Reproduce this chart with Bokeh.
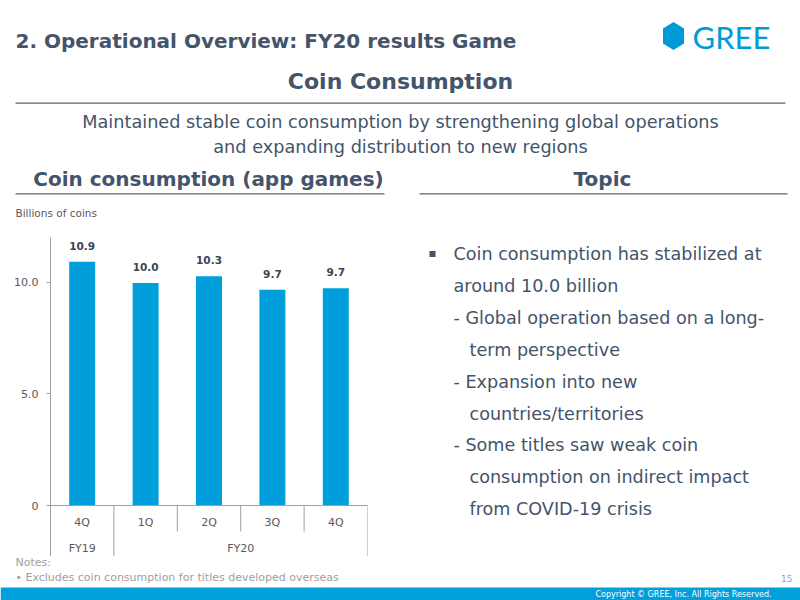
from bokeh.plotting import figure
from bokeh.layouts import column, row
from bokeh.models import FactorRange, Range1d, FixedTicker
from bokeh.embed import file_html
from bokeh.resources import INLINE
from bokeh.core.properties import value

# ---------------- data ----------------
fiscal_years = ["FY19", "FY20", "FY20", "FY20", "FY20"]
quarters = ["4Q", "1Q", "2Q", "3Q", "4Q"]
coins = [10.91, 9.96, 10.27, 9.66, 9.73]          # billions of coins
y_ticks = [0, 5, 10]
y_tick_labels = ["0", "5.0", "10.0"]
y_max = 12

page_title = "2. Operational Overview: FY20 results Game"
section_title = "Coin Consumption"
subtitle_lines = ["Maintained stable coin consumption by strengthening global operations",
                  "and expanding distribution to new regions"]
chart_header = "Coin consumption (app games)"
topic_header = "Topic"
unit_label = "Billions of coins"
notes_lines = ["Notes:", "\u2022 Excludes coin consumption for titles developed overseas"]
topic_lines = ["Coin consumption has stabilized at",
               "around 10.0 billion",
               "- Global operation based on a long-",
               "term perspective",
               "- Expansion into new",
               "countries/territories",
               "- Some titles saw weak coin",
               "consumption on indirect impact",
               "from COVID-19 crisis"]
topic_indent = [0, 0, 0, 1, 0, 1, 0, 1, 1]
copyright_text = "Copyright \u00a9 GREE, Inc. All Rights Reserved."
page_number = "15"
logo_text = "GREE"

# ---------------- style ----------------
W, H = 800, 600
FONT = "DejaVu Sans"
TXT = "#44546A"
BLUE = "#009FDB"
LOGO_BLUE = "#009AD9"
AXIS = "#A0A0A0"
TICK_TXT = "#595959"
NOTE_TXT = "#A0A0A0"
RULE = "#5A6372"

FRAME_L, FRAME_R, FRAME_T, ZERO_Y, FRAME_B = 50, 367, 237, 505, 556
FOOTER_T = 587
LEFT_W = 400


def panel(w, h, bg="white"):
    f = figure(width=w, height=h, x_range=Range1d(0, w), y_range=Range1d(h, 0),
               output_backend="svg", toolbar_location=None, min_border=0,
               x_axis_location=None, y_axis_location=None,
               outline_line_color=None, background_fill_color=bg, border_fill_color=bg)
    f.grid.visible = False
    return f


def txt(f, x, y, text, size, color=TXT, bold=False, align="left", font=FONT):
    f.text(x=[x], y=[y], text=[text], text_font=value(font), text_font_size=f"{size}px",
           text_font_style="bold" if bold else "normal", text_color=color,
           text_align=align, text_baseline="middle")


def rule(f, x0, x1, y, color=RULE, w=1.3):
    f.segment(x0=[x0], y0=[y], x1=[x1], y1=[y], line_color=color, line_width=w)


# ---------------- header (page y 0..237) ----------------
hdr = panel(W, FRAME_T)
txt(hdr, 15, 40.5, page_title, 20, bold=True)
txt(hdr, 400, 80.5, section_title, 22, bold=True, align="center")
rule(hdr, 15, 785, 102.7)
txt(hdr, 400, 121, subtitle_lines[0], 17.7, align="center")
txt(hdr, 400, 146.5, subtitle_lines[1], 17.7, align="center")
txt(hdr, 208, 178.5, chart_header, 20, bold=True, align="center")
txt(hdr, 602, 178.5, topic_header, 20, bold=True, align="center")
rule(hdr, 15, 384, 193.3)
rule(hdr, 419, 787, 193.3)
hdr.patch(x=[673, 683.5, 683.5, 673, 662.5, 662.5], y=[21.5, 28, 43, 49.5, 43, 28],
          fill_color=LOGO_BLUE, line_color=None)
txt(hdr, 692, 36, logo_text, 31, color=LOGO_BLUE, font="Lato")
txt(hdr, 15, 212, unit_label, 10.5, color=TICK_TXT)

# ---------------- chart (page y 237..556) ----------------
px_per_unit = (ZERO_Y - FRAME_T) / y_max
y_min = -(FRAME_B - ZERO_Y) / px_per_unit
short_sep = -(531 - ZERO_Y) / px_per_unit

factors = list(zip(fiscal_years, quarters))
x_range = FactorRange(*factors, factor_padding=0, group_padding=0,
                      subgroup_padding=0, range_padding=0)

p = figure(width=LEFT_W, height=FRAME_B - FRAME_T, x_range=x_range,
           y_range=Range1d(y_min, y_max),
           output_backend="svg", toolbar_location=None,
           min_border=0, min_border_left=FRAME_L, min_border_right=LEFT_W - FRAME_R,
           outline_line_color=None, background_fill_color="white",
           border_fill_color="white")
p.xgrid.visible = False
p.ygrid.visible = False

xa = p.xaxis[0]
xa.fixed_location = 0
xa.axis_line_color = AXIS
xa.major_tick_line_color = None
xa.major_tick_out = 0
xa.major_tick_in = 0
xa.minor_tick_line_color = None
xa.separator_line_color = None
xa.major_label_standoff = 10
xa.major_label_text_font = FONT
xa.major_label_text_font_size = "11px"
xa.major_label_text_color = TICK_TXT
xa.group_text_font = FONT
xa.group_text_font_size = "11px"
xa.group_text_font_style = "normal"
xa.group_text_color = TICK_TXT

ya = p.yaxis[0]
ya.ticker = FixedTicker(ticks=y_ticks)
ya.major_label_overrides = {float(t): l for t, l in zip(y_ticks, y_tick_labels)}
ya.axis_line_color = AXIS
ya.major_tick_line_color = AXIS
ya.major_tick_in = 0
ya.major_tick_out = 4
ya.minor_tick_line_color = None
ya.major_label_standoff = 8
ya.major_label_text_font = FONT
ya.major_label_text_font_size = "11px"
ya.major_label_text_color = TICK_TXT

p.vbar(x=factors, top=coins, width=0.41, fill_color=BLUE, line_color=None)
p.text(x=factors, y=coins, text=[f"{v:.1f}" for v in coins],
       text_align="center", text_baseline="middle", y_offset=-16,
       text_font=value(FONT), text_font_style="bold", text_font_size="10.5px",
       text_color="#3B4556")

n = len(factors)
sep_x, sep_y1 = [], []
for i in range(n + 1):
    sep_x.append((*factors[i], -0.5) if i < n else (*factors[-1], 0.5))
    group_edge = i == 0 or i == n or fiscal_years[i] != fiscal_years[i - 1]
    sep_y1.append(y_min if group_edge else short_sep)
p.segment(x0=sep_x, y0=[0] * len(sep_x), x1=sep_x, y1=sep_y1,
          line_color=AXIS, line_width=1)

# ---------------- topic (page y 237..556, x 400..800) ----------------
topic_p = panel(W - LEFT_W, FRAME_B - FRAME_T)
oy = FRAME_T
topic_p.quad(left=[29], right=[35], top=[250.5 - oy], bottom=[256.5 - oy],
             fill_color=TXT, line_color=None)
for k, line in enumerate(topic_lines):
    txt(topic_p, 53 + 16 * topic_indent[k], 253.5 + 31.9 * k - oy, line, 17.6)

# ---------------- bottom (page y 556..600) ----------------
bottom = panel(W, H - FRAME_B)
ob = FRAME_B
txt(bottom, 15, 562 - ob, notes_lines[0], 11, color=NOTE_TXT)
txt(bottom, 15, 577 - ob, notes_lines[1], 11, color=NOTE_TXT)
txt(bottom, 792, 578 - ob, page_number, 9, color=NOTE_TXT, align="right")
bottom.quad(left=[0], right=[W], top=[FOOTER_T - ob], bottom=[H - ob],
            fill_color="#00A0DC", line_color=None)
txt(bottom, 771, 593.5 - ob, copyright_text, 8, color="white", align="right")

layout = column(hdr, row(p, topic_p), bottom)
open("out.html", "w").write(file_html(layout, INLINE))
